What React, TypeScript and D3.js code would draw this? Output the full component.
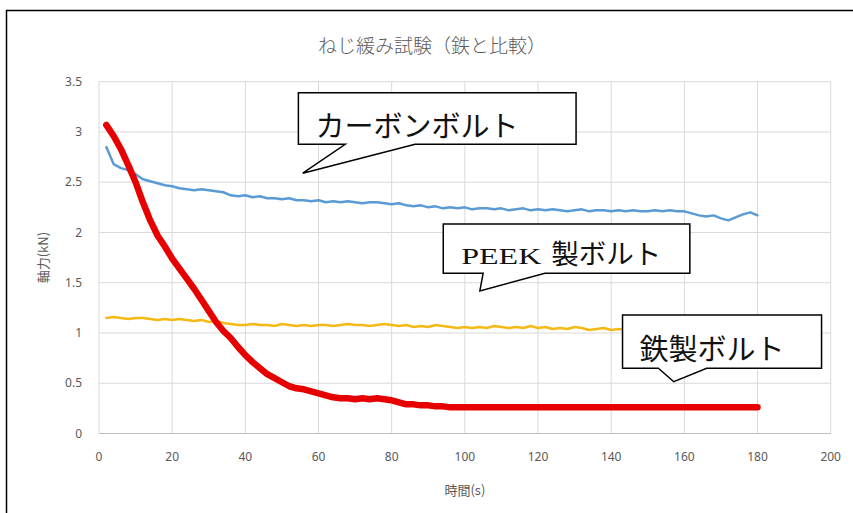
import React from "react";
import * as d3 from "d3";

// Sample times (s), one reading every 2 s
const TIME_S = d3.range(2, 181, 2);

// Axial force (kN) of each bolt type
const CARBON_KN = [
  2.85, 2.68, 2.64, 2.62, 2.58, 2.53, 2.51, 2.49, 2.47, 2.46,
  2.44, 2.43, 2.42, 2.43, 2.42, 2.41, 2.40, 2.37, 2.36, 2.37,
  2.35, 2.36, 2.34, 2.34, 2.33, 2.34, 2.32, 2.32, 2.31, 2.32,
  2.30, 2.31, 2.30, 2.31, 2.30, 2.29, 2.30, 2.30, 2.29, 2.28,
  2.29, 2.27, 2.26, 2.27, 2.25, 2.26, 2.24, 2.25, 2.24, 2.25,
  2.23, 2.24, 2.24, 2.23, 2.24, 2.22, 2.23, 2.24, 2.22, 2.23,
  2.22, 2.23, 2.22, 2.21, 2.22, 2.23, 2.21, 2.22, 2.22, 2.21,
  2.22, 2.21, 2.22, 2.21, 2.21, 2.22, 2.21, 2.22, 2.21, 2.21,
  2.19, 2.17, 2.16, 2.17, 2.14, 2.12, 2.15, 2.18, 2.20, 2.17,
];

const PEEK_KN = [
  1.15, 1.16, 1.15, 1.14, 1.15, 1.15, 1.14, 1.13, 1.14, 1.13,
  1.14, 1.13, 1.12, 1.13, 1.11, 1.12, 1.10, 1.09, 1.08, 1.08,
  1.09, 1.08, 1.08, 1.07, 1.09, 1.08, 1.07, 1.08, 1.07, 1.08,
  1.08, 1.07, 1.08, 1.09, 1.08, 1.08, 1.07, 1.08, 1.09, 1.08,
  1.07, 1.08, 1.06, 1.07, 1.06, 1.08, 1.07, 1.06, 1.05, 1.06,
  1.05, 1.06, 1.05, 1.07, 1.06, 1.05, 1.06, 1.05, 1.07, 1.05,
  1.06, 1.04, 1.05, 1.04, 1.06, 1.05, 1.03, 1.04, 1.05, 1.03,
  1.04, 1.03, 1.04, 1.03, 1.04, 1.03, 1.04, 1.03, 1.03, 1.04,
  1.03, 1.04, 1.03, 1.03, 1.04, 1.03, 1.03, 1.04, 1.03, 1.03,
];

const STEEL_KN = [
  3.07, 2.96, 2.83, 2.67, 2.50, 2.30, 2.12, 1.97, 1.86, 1.74,
  1.64, 1.54, 1.44, 1.33, 1.22, 1.11, 1.02, 0.95, 0.86, 0.78,
  0.71, 0.65, 0.59, 0.55, 0.51, 0.47, 0.45, 0.44, 0.42, 0.40,
  0.38, 0.36, 0.35, 0.35, 0.34, 0.35, 0.34, 0.35, 0.34, 0.33,
  0.31, 0.29, 0.29, 0.28, 0.28, 0.27, 0.27, 0.26, 0.26, 0.26,
  0.26, 0.26, 0.26, 0.26, 0.26, 0.26, 0.26, 0.26, 0.26, 0.26,
  0.26, 0.26, 0.26, 0.26, 0.26, 0.26, 0.26, 0.26, 0.26, 0.26,
  0.26, 0.26, 0.26, 0.26, 0.26, 0.26, 0.26, 0.26, 0.26, 0.26,
  0.26, 0.26, 0.26, 0.26, 0.26, 0.26, 0.26, 0.26, 0.26, 0.26,
];

const X_TICKS = [0, 20, 40, 60, 80, 100, 120, 140, 160, 180, 200];
const Y_TICKS = [0, 0.5, 1, 1.5, 2, 2.5, 3, 3.5];

const TITLE = "ねじ緩み試験（鉄と比較）";
const X_TITLE = "時間(s)";
const Y_TITLE = "軸力(kN)";

// Speech-bubble notes, placed in data units (time, kN)
type Note = {
  box: [number, number, number, number]; // t0, t1, v0 (bottom), v1 (top)
  base: [number, number]; // tail base along the bottom edge (time)
  tip: [number, number]; // tail tip (time, kN)
};
const CARBON_NOTE: Note = { box: [54.5, 130.4, 2.877, 3.39], base: [67.3, 86.4], tip: [55.7, 2.59] };
const PEEK_NOTE: Note = { box: [94.1, 161.5, 1.594, 2.084], base: [105.0, 121.9], tip: [104.1, 1.418] };
const STEEL_NOTE: Note = { box: [143.1, 197.5, 0.649, 1.179], base: [152.9, 166.1], tip: [157.1, 0.515] };

const W = 853;
const H = 513;
const M = { left: 99, right: 853 - 830.7, top: 81.7, bottom: 513 - 433.5 };

const JP = "'Noto Sans CJK JP', 'Noto Sans', sans-serif";

export default function App() {
  const x = d3.scaleLinear().domain([0, 200]).range([M.left, W - M.right]);
  const y = d3.scaleLinear().domain([0, 3.5]).range([H - M.bottom, M.top]);

  const line = d3
    .line<number>()
    .x((_, i) => x(TIME_S[i]))
    .y((d) => y(d))
    .curve(d3.curveLinear);

  const bubble = (n: Note) => {
    const [t0, t1, v0, v1] = n.box;
    const p = d3.path();
    p.moveTo(x(t0), y(v1));
    p.lineTo(x(t1), y(v1));
    p.lineTo(x(t1), y(v0));
    p.lineTo(x(n.base[1]), y(v0));
    p.lineTo(x(n.tip[0]), y(n.tip[1]));
    p.lineTo(x(n.base[0]), y(v0));
    p.lineTo(x(t0), y(v0));
    p.closePath();
    return p.toString();
  };

  const x0 = x(0);
  const x1 = x(200);
  const yB = y(0);
  const yT = y(3.5);

  return (
    <svg
      width={W}
      height={H}
      style={{ position: "absolute", left: 0, top: 0, background: "#fff" }}
    >
      <rect x={0} y={0} width={W} height={H} fill="#fff" />
      {/* chart frame */}
      <rect x={6.5} y={10.5} width={W + 20} height={H + 20} fill="none" stroke="#000" strokeWidth={1.5} />

      {/* title */}
      <text x={432} y={53} textAnchor="middle" fontFamily={JP} fontSize={19} fontWeight={300} fill="#595959">
        {TITLE}
      </text>

      {/* grid */}
      {Y_TICKS.map((v) => (
        <line key={"gy" + v} x1={x0} x2={x1} y1={y(v)} y2={y(v)} stroke="#d9d9d9" strokeWidth={1} />
      ))}
      {X_TICKS.map((t) => (
        <line key={"gx" + t} x1={x(t)} x2={x(t)} y1={yT} y2={yB} stroke="#d9d9d9" strokeWidth={1} />
      ))}
      <line x1={x0} x2={x1} y1={yB} y2={yB} stroke="#bfbfbf" strokeWidth={1} />

      {/* tick labels */}
      {Y_TICKS.map((v) => (
        <text key={"ly" + v} x={82} y={y(v)} dy="0.35em" textAnchor="end" fontFamily="'Noto Sans', sans-serif" fontSize={12} fill="#595959">
          {String(v)}
        </text>
      ))}
      {X_TICKS.map((t) => (
        <text key={"lx" + t} x={x(t)} y={457} dy="0.35em" textAnchor="middle" fontFamily="'Noto Sans', sans-serif" fontSize={12} fill="#595959">
          {String(t)}
        </text>
      ))}

      {/* axis titles */}
      <text x={(x0 + x1) / 2} y={490} dy="0.35em" textAnchor="middle" fontFamily={JP} fontSize={13} fill="#595959">
        {X_TITLE}
      </text>
      <text
        transform={`translate(43,${(yT + yB) / 2}) rotate(-90)`}
        dy="0.35em"
        textAnchor="middle"
        fontFamily={JP}
        fontSize={13}
        fill="#595959"
      >
        {Y_TITLE}
      </text>

      {/* series */}
      <path d={line(CARBON_KN) ?? ""} fill="none" stroke="#5b9bd5" strokeWidth={2.5} strokeLinejoin="round" strokeLinecap="round" />
      <path d={line(PEEK_KN) ?? ""} fill="none" stroke="#f4b914" strokeWidth={2.5} strokeLinejoin="round" strokeLinecap="round" />
      <path d={line(STEEL_KN) ?? ""} fill="none" stroke="#e60000" strokeWidth={6.5} strokeLinejoin="round" strokeLinecap="round" />

      {/* notes */}
      <path d={bubble(CARBON_NOTE)} fill="#fff" stroke="#000" strokeWidth={1.5} />
      <text x={x(CARBON_NOTE.box[0]) + 17} y={y(CARBON_NOTE.box[2]) - 7} fontFamily={JP} fontSize={29} fill="#111">
        カーボンボルト
      </text>

      <path d={bubble(PEEK_NOTE)} fill="#fff" stroke="#000" strokeWidth={1.5} />
      <text x={x(PEEK_NOTE.box[0]) + 18} y={y(PEEK_NOTE.box[2]) - 9.5} fill="#111">
        <tspan fontFamily="'Liberation Serif', serif" fontSize={23} textLength={80} lengthAdjust="spacingAndGlyphs">
          PEEK
        </tspan>
        <tspan dx={10} fontFamily={JP} fontSize={27.5}>
          製ボルト
        </tspan>
      </text>

      <path d={bubble(STEEL_NOTE)} fill="#fff" stroke="#000" strokeWidth={1.5} />
      <text x={x(STEEL_NOTE.box[0]) + 17} y={y(STEEL_NOTE.box[2]) - 8} fontFamily={JP} fontSize={29} fill="#111">
        鉄製ボルト
      </text>
    </svg>
  );
}
